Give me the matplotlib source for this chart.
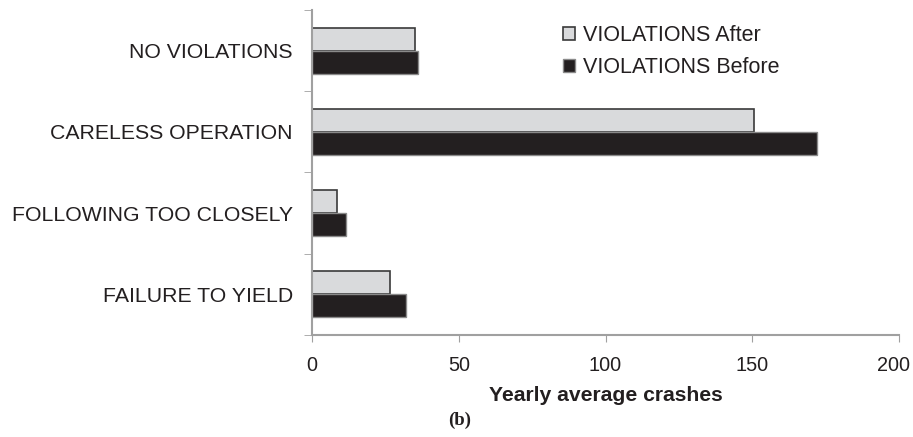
import numpy as np
import matplotlib.pyplot as plt
from matplotlib.transforms import ScaledTranslation

categories = ['NO VIOLATIONS', 'CARELESS OPERATION', 'FOLLOWING TOO CLOSELY', 'FAILURE TO YIELD']
after = [35, 150.5, 8.5, 26.5]
before = [36, 172, 11.5, 32]

plt.rcParams['font.family'] = ['Liberation Sans', 'DejaVu Sans']

fig = plt.figure(figsize=(9.13, 4.37), dpi=100)
ax = fig.add_axes([312 / 913, 1 - 335 / 437, 587 / 913, 325 / 437])

y = np.arange(len(categories))
h = 0.283
ax.barh(y - h / 2, after, height=h, color='#d9dadc', edgecolor='#3a3a3a', linewidth=1.2,
        label='VIOLATIONS After')
ax.barh(y + h / 2, before, height=h, color='#231f20', edgecolor='#8a8a8a', linewidth=1.0,
        label='VIOLATIONS Before')

ax.set_xlim(0, 200)
ax.set_ylim(len(categories) - 0.5, -0.5)
ax.set_xticks([0, 50, 100, 150, 200])
ax.tick_params(axis='x', labelsize=14.3, length=5, color='#a0a0a0', pad=10, labelcolor='#231f20')
ax.set_yticks(y)
ax.set_yticklabels(categories)
ax.tick_params(axis='y', length=0, labelsize=15.3, pad=13.7, labelcolor='#231f20')
ax.set_yticks(np.arange(-0.5, len(categories)), minor=True)
ax.tick_params(axis='y', which='minor', length=6, color='#a0a0a0')

# last tick label sits a little left so it stays inside the figure
fig.canvas.draw()
last = ax.get_xticklabels()[-1]
last.set_transform(last.get_transform() + ScaledTranslation(-6 / 100, 0, fig.dpi_scale_trans))

for s in ['top', 'right']:
    ax.spines[s].set_visible(False)
for s in ['left', 'bottom']:
    ax.spines[s].set_color('#a0a0a0')
    ax.spines[s].set_linewidth(1.5)

ax.set_xlabel('Yearly average crashes', fontsize=15.2, fontweight='bold', labelpad=8, color='#231f20')

leg = ax.legend(loc='upper left', bbox_to_anchor=(563 / 913, 1 - 25 / 437),
                bbox_transform=fig.transFigure, frameon=False, fontsize=15.5,
                handlelength=0.56, handleheight=0.56, handletextpad=0.37,
                labelspacing=0.5, borderpad=0, borderaxespad=0)
for t in leg.get_texts():
    t.set_color('#231f20')

fig.text(460 / 913, 1 - 420 / 437, '(b)', family='Liberation Serif', fontweight='bold',
         fontsize=13.5, ha='center', va='center', color='#231f20')

fig.savefig('out.png', dpi=100)
